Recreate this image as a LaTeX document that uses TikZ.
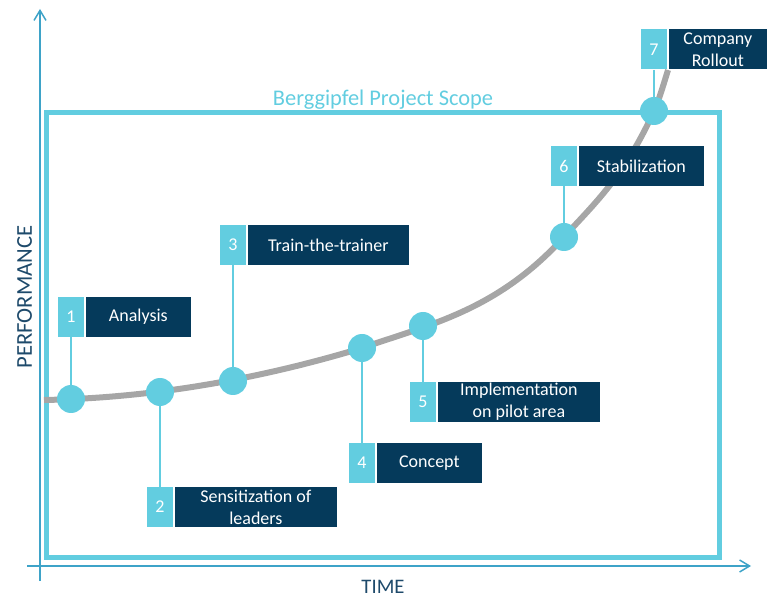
\documentclass[tikz,border=0pt]{standalone}
\usepackage{fontspec}
\setmainfont{Carlito}
\usepackage{tikz}
\usetikzlibrary{arrows.meta, positioning}
\definecolor{scopecyan}{HTML}{62CDE0}
\definecolor{navy}{HTML}{053A5B}
\definecolor{curvegray}{HTML}{A6A6A6}
\definecolor{axisblue}{HTML}{3EA3C8}
\definecolor{axistext}{HTML}{1E4A6B}

\begin{document}
\begin{tikzpicture}[
  x=0.75pt, y=-0.75pt,
  every node/.style={font=\fontsize{13.5}{16.5}\selectfont, align=center},
  numbox/.style={fill=scopecyan, text=white, minimum width=19.5pt,
                 minimum height=30pt, inner sep=0pt},
  labelbox/.style={fill=navy, text=white, minimum height=30pt, inner sep=1pt},
  milestone/.style={circle, fill=scopecyan, minimum size=21pt, inner sep=0pt},
  stem/.style={draw=scopecyan, line width=1.5pt},
  axis/.style={draw=axisblue, line width=1.1pt,
               -{Straight Barb[length=7.5pt, width=9pt]}},
  curve/.style={draw=curvegray, line width=4.5pt},
  axislabel/.style={font=\fontsize{15.5}{18}\selectfont, text=axistext},
]
  \useasboundingbox (0,0) rectangle (768,609);

  % Axes
  \coordinate (yfoot) at (40,581);
  \coordinate (ytip)  at (40,9);
  \coordinate (xfoot) at (27,566);
  \coordinate (xtip)  at (751,566);
  \draw[axis] (yfoot) -- (ytip);
  \draw[axis] (xfoot) -- (xtip);
  \node[axislabel, anchor=base] (time) at (383,594) {TIME};
  \node[axislabel, rotate=90, font=\fontsize{17}{18}\selectfont]
        (perf) at (24.5,297) {PERFORMANCE};

  % Project scope frame
  \draw[draw=scopecyan, line width=3.5pt] (46.5,112.5) rectangle (719.5,557.5);
  \node[anchor=base, text=scopecyan, font=\fontsize{16.8}{18}\selectfont]
        (scope) at (383,106) {Berggipfel Project Scope};

  % Performance curve
  \coordinate (start) at (44,400);
  \coordinate (p1) at (71,399);
  \coordinate (p2) at (160,392);
  \coordinate (p3) at (233,381);
  \coordinate (p4) at (362,348);
  \coordinate (p5) at (423,326);
  \coordinate (p6) at (564,237);
  \coordinate (p7) at (654,111);
  \coordinate (stop) at (668,70);
  \draw[curve] (start) .. controls +(106,-2) and +(-106,32) .. (p4)
                       .. controls +(67,-23.5) and +(-67,74) .. (p6)
                       .. controls +(30,-33) and +(-30,66) .. (p7)
                       .. controls +(5,-11) and +(-4,13) .. (stop);

  \foreach \i in {1,...,7}
    \node[milestone] (c\i) at (p\i) {};

  % Milestone labels
  \node[numbox] (n1) at (71,317)   {1};
  \node[numbox] (n2) at (160,507)  {2};
  \node[numbox] (n3) at (233,245)  {3};
  \node[numbox] (n4) at (362,463)  {4};
  \node[numbox] (n5) at (423,402)  {5};
  \node[numbox] (n6) at (564,166)  {6};
  \node[numbox] (n7) at (654,49.5) {7};

  \node[labelbox, minimum width=78.75pt, right=1pt of n1]  (l1) {Analysis};
  \node[labelbox, minimum width=121.5pt, right=1pt of n2]  (l2) {Sensitization of\\leaders};
  \node[labelbox, minimum width=120.75pt, right=1pt of n3] (l3) {Train-the-trainer};
  \node[labelbox, minimum width=78.75pt, right=1pt of n4]  (l4) {Concept};
  \node[labelbox, minimum width=121.5pt, right=1pt of n5]  (l5) {Implementation\\on pilot area};
  \node[labelbox, minimum width=93.75pt, right=1pt of n6]  (l6) {Stabilization};
  \node[labelbox, minimum width=73.5pt, right=1pt of n7]   (l7) {Company\\Rollout};

  \foreach \i in {1,...,7}
    \draw[stem] (n\i) -- (c\i);
\end{tikzpicture}
\end{document}
